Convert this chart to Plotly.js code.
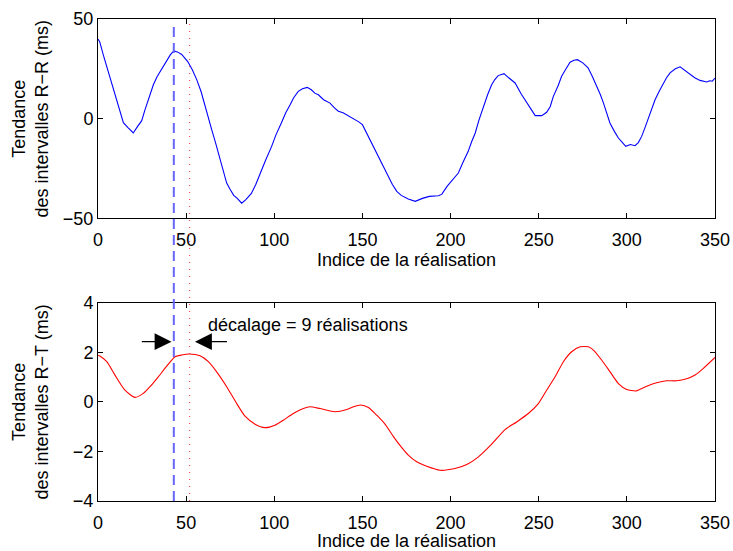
<!DOCTYPE html>
<html>
<head>
<meta charset="utf-8">
<script src="https://cdn.plot.ly/plotly-3.0.1.min.js"></script>
<style>html,body{margin:0;padding:0;background:#fff;}#chart{width:733px;height:551px;}</style>
</head>
<body>
<div id="chart"></div>
<script>
// Top panel: R-R interval trend (ms)
var rrX = [0, 1, 3, 5, 8, 10.6, 12.5, 14.4, 17, 20, 22, 24.8, 26.5, 28.6, 30, 31.4, 33.5, 36, 39, 41, 43, 45, 47.5, 49, 51, 53.5, 56, 58.5, 60.7, 62.5, 64.5, 66.5, 68.3, 71, 73, 75, 77, 79, 81.5, 84, 87, 89.5, 92, 95, 98.5, 101, 104, 106.5, 109, 111, 113.6, 116, 118.7, 121, 123, 125, 128, 131.6, 134, 136.3, 139, 142, 145, 147.7, 150, 153.3, 156, 159, 161.5, 164, 167, 169.5, 172, 176, 180, 184, 188, 193, 195, 198, 201, 204.4, 207, 210, 212, 214, 216, 218.6, 221, 223.3, 225, 227, 230.3, 233, 236.6, 240, 243.2, 245.5, 248, 251.7, 254.5, 256.5, 258.3, 261, 263, 265.5, 267.8, 270, 272, 275, 278, 280.5, 283, 285, 286.7, 288.5, 290.4, 293, 295.2, 297.5, 299.4, 302, 304.6, 306.5, 308.4, 310.5, 312.2, 314, 316, 318.5, 320.7, 322.5, 324.5, 327.5, 330.2, 333, 335.8, 338.5, 341.5, 345.3, 347, 348.5, 350];
var rrY = [40, 38.5, 32, 26, 17, 10, 4, -2, -4.5, -7.2, -4.5, -1, 4, 9.5, 13.5, 17, 21, 24.6, 29.5, 32, 34, 33.5, 32.2, 30.5, 28.5, 24.5, 19.6, 13.5, 7, 1, -5.5, -11.5, -17.2, -26, -32.3, -35.5, -38.5, -40, -42.4, -40.5, -37.5, -33, -27.3, -21, -13.9, -8, -2.2, 3, 7, 10.5, 13.7, 15, 15.7, 14.5, 12.8, 12, 9.5, 7.8, 5.5, 3.7, 3, 1.5, 0, -1.5, -3, -8.9, -13.5, -18.9, -24, -28.1, -33, -36.5, -38.5, -40.3, -41.5, -40, -39, -38.7, -38, -34, -31, -27.3, -22, -16.4, -11.5, -7.2, -1, 6.2, 12, 17, 19.5, 21.6, 22.6, 20.5, 17.9, 12.5, 7.9, 4.5, 1.5, 1.5, 3.2, 6, 11.2, 16.5, 21.3, 25, 28.3, 29.3, 29.6, 28, 25.5, 21, 16.2, 12, 7.9, 3, -2.2, -6.5, -9.7, -12, -13.9, -13, -13.6, -12, -8.9, -4, 0.3, 5, 9.5, 14, 17.9, 20.5, 23, 25, 26, 24, 22.1, 20.5, 19.2, 18.4, 19, 18.8, 20.4];

// Bottom panel: R-T interval trend (ms)
var rtX = [0, 1, 5, 9.6, 15.3, 21, 25.7, 29.5, 34.2, 39, 43.7, 47.5, 51.8, 57.9, 62.6, 67.3, 73, 78.7, 83.4, 89.1, 94.7, 100.4, 105.1, 110.8, 116.5, 120.3, 125.9, 134.5, 141.1, 144.9, 149, 153.4, 158.1, 162.8, 167.6, 172, 176, 180.8, 186.5, 194, 202.5, 209.2, 215.8, 223.3, 230.9, 237.5, 244.1, 249.8, 254.5, 259.3, 264, 268.7, 273.5, 278.2, 281, 285.8, 290.5, 295.2, 299.9, 305.2, 311.3, 316.9, 322.6, 328.2, 333.9, 338.7, 343.4, 350];
var rtY = [1.88, 1.85, 1.62, 1.08, 0.47, 0.18, 0.34, 0.61, 1.01, 1.44, 1.82, 1.89, 1.93, 1.86, 1.62, 1.21, 0.61, -0.07, -0.58, -0.9, -1.04, -0.94, -0.74, -0.47, -0.27, -0.2, -0.27, -0.4, -0.31, -0.2, -0.13, -0.23, -0.54, -0.9, -1.4, -1.82, -2.15, -2.42, -2.6, -2.76, -2.69, -2.53, -2.22, -1.71, -1.12, -0.81, -0.47, -0.07, 0.47, 1.01, 1.62, 2.02, 2.22, 2.22, 2.09, 1.68, 1.21, 0.74, 0.5, 0.44, 0.63, 0.77, 0.85, 0.85, 0.93, 1.08, 1.35, 1.79];

// Markers and labels
var rrPeakX = 43;
var rtPeakX = 52;
var xTitle = 'Indice de la réalisation';
var rrTitle = 'Tendance<br>des intervalles R\u2212R (ms)';
var rtTitle = 'Tendance<br>des intervalles R\u2212T (ms)';
var shiftLabel = 'décalage = 9 réalisations';
var arrowY = 2.43;
var arrowLeftTail = 24, arrowRightTail = 74;
var labelX = 61.5, labelY = 3.1;

var FONT = 'Liberation Sans, Arial, Helvetica, sans-serif';
var FS = 18;

var traces = [
  {x: rrX, y: rrY, xaxis: 'x', yaxis: 'y', type: 'scatter', mode: 'lines',
   line: {color: '#0000ff', width: 1.1}, hoverinfo: 'skip'},
  {x: rtX, y: rtY, xaxis: 'x2', yaxis: 'y2', type: 'scatter', mode: 'lines',
   line: {color: '#ff0000', width: 1.1, shape: 'spline', smoothing: 0.6}, hoverinfo: 'skip'}
];

function xax(anchor) {
  return {domain: [0, 1], anchor: anchor, range: [0, 350], tickvals: [0, 50, 100, 150, 200, 250, 300, 350],
    ticks: 'inside', ticklen: 5, tickcolor: '#000', showline: true, linecolor: '#000', linewidth: 1,
    mirror: 'ticks', showgrid: false, zeroline: false, ticklabelstandoff: 5,
    tickfont: {family: FONT, size: FS, color: '#000'},
    title: {text: xTitle, font: {family: FONT, size: FS, color: '#000'}, standoff: 0}, automargin: false};
}
function yax(anchor, dom, rng, dt) {
  return {domain: dom, anchor: anchor, range: rng, dtick: dt, tick0: 0,
    ticks: 'inside', ticklen: 5, tickcolor: '#000', showline: true, linecolor: '#000', linewidth: 1,
    mirror: 'ticks', showgrid: false, zeroline: false, tickfont: {family: FONT, size: FS, color: '#000'},
    automargin: false};
}

var layout = {
  width: 733, height: 551,
  margin: {l: 98, r: 18, t: 19, b: 50},
  paper_bgcolor: '#fff', plot_bgcolor: '#fff',
  showlegend: false,
  xaxis: xax('y'),
  yaxis: yax('x', [0.5865, 1], [-50, 50], 50),
  xaxis2: xax('y2'),
  yaxis2: yax('x2', [0, 0.4114], [-4, 4], 2),
  shapes: [
    {type: 'line', xref: 'x', yref: 'paper', x0: rrPeakX, x1: rrPeakX, y0: 0, y1: 0.995,
     line: {color: 'rgb(100,100,255)', width: 2, dash: '10px,6px'}},
    {type: 'line', xref: 'x', yref: 'paper', x0: rtPeakX, x1: rtPeakX, y0: 0, y1: 0.99,
     line: {color: '#ff3030', width: 1, dash: '1px,6px'}}
  ],
  annotations: [
    {xref: 'paper', yref: 'paper', x: -0.109, y: 0.793, text: rrTitle, textangle: -90, showarrow: false,
     xanchor: 'center', yanchor: 'middle', font: {family: FONT, size: FS, color: '#000'}},
    {xref: 'paper', yref: 'paper', x: -0.109, y: 0.206, text: rtTitle, textangle: -90, showarrow: false,
     xanchor: 'center', yanchor: 'middle', font: {family: FONT, size: FS, color: '#000'}},
    {xref: 'x2', yref: 'y2', x: labelX, y: labelY, text: shiftLabel, showarrow: false,
     xanchor: 'left', yanchor: 'middle', font: {family: FONT, size: FS, color: '#000'}},
    {xref: 'x2', yref: 'y2', x: rrPeakX - 1.3, y: arrowY, axref: 'x2', ayref: 'y2', ax: arrowLeftTail, ay: arrowY,
     text: '', showarrow: true, arrowhead: 2, arrowsize: 2.6, arrowwidth: 1.3, arrowcolor: '#000', standoff: 0, startstandoff: 0},
    {xref: 'x2', yref: 'y2', x: rtPeakX + 3, y: arrowY, axref: 'x2', ayref: 'y2', ax: arrowRightTail, ay: arrowY,
     text: '', showarrow: true, arrowhead: 2, arrowsize: 2.6, arrowwidth: 1.3, arrowcolor: '#000', standoff: 0, startstandoff: 0}
  ]
};

Plotly.newPlot('chart', traces, layout, {displayModeBar: false, staticPlot: true});
</script>
</body>
</html>
